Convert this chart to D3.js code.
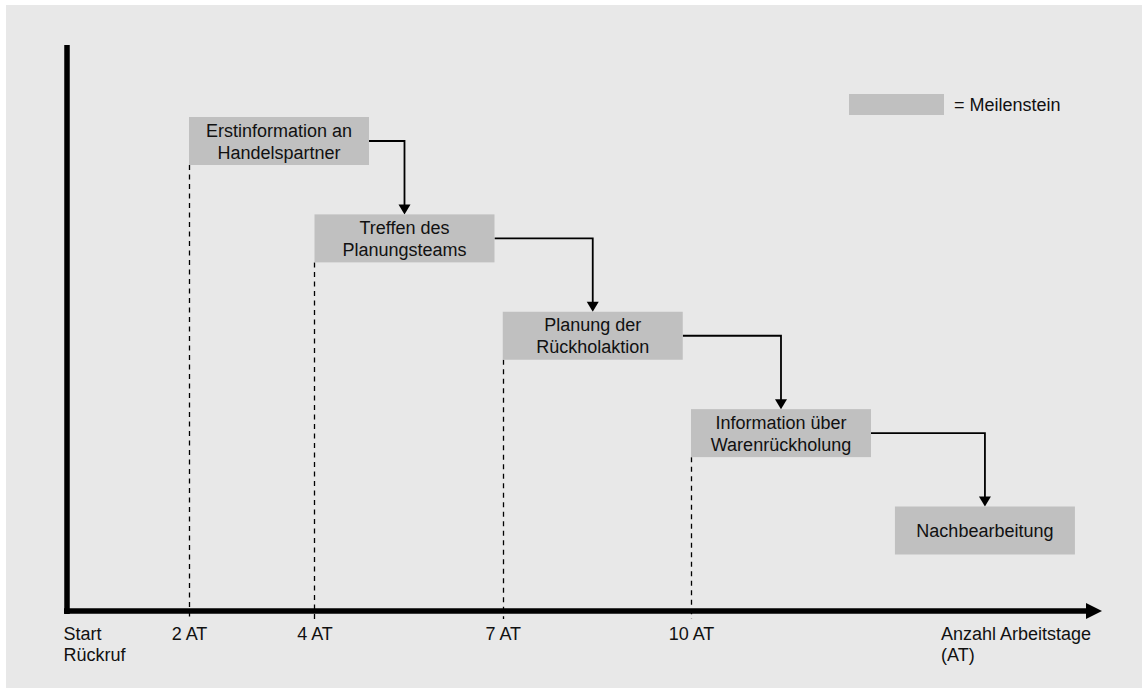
<!DOCTYPE html>
<html>
<head>
<meta charset="utf-8">
<script src="https://cdn.jsdelivr.net/npm/d3@7"></script>
<style>
  body { margin: 0; background: #ffffff; }
  text { font-family: "Liberation Sans", Arial, Helvetica, sans-serif; fill: #111; }
</style>
</head>
<body>
<svg id="chart" width="1142" height="688"></svg>
<script>
// Milestones of the recall process (label lines split by "|") and the working day each starts on
const milestoneLabels = [
  "Erstinformation an|Handelspartner",
  "Treffen des|Planungsteams",
  "Planung der|Rückholaktion",
  "Information über|Warenrückholung",
  "Nachbearbeitung"
];
const milestoneDays = [2, 4, 7, 10, 13.25];
const milestoneMarked = [true, true, true, true, false]; // dashed guide down to the axis

// Axis ticks (working days) and their labels
const tickDays = [0, 2, 4, 7, 10];
const tickLabels = ["Start|Rückruf", "2 AT", "4 AT", "7 AT", "10 AT"];
const axisTitleLines = ["Anzahl Arbeitstage", "(AT)"];
const axisTitleDay = 14;
const legendLabel = "= Meilenstein";

const W = 1142, H = 688;
const boxW = 180, boxH = 48;
const boxFill = "#c0c0c0";
const lineGap = 22;
const fontSize = 18;

const svg = d3.select("#chart");

// panel background
svg.append("rect").attr("x", 6).attr("y", 5).attr("width", W - 6).attr("height", H - 5).attr("fill", "#e8e8e8");

const x = d3.scaleLinear().domain([0, 16.55]).range([63.5, 1102]);
const y = d3.scaleLinear().domain([0, 4]).range([117, 506.5]); // top of each step box
const axisY = 611;

// dashed guides from each milestone to the time axis
svg.append("g").selectAll("line")
  .data(milestoneDays.map((d, i) => ({ d, i })).filter(o => milestoneMarked[o.i]))
  .join("line")
  .attr("x1", o => Math.round(x(o.d)) + 0.5)
  .attr("x2", o => Math.round(x(o.d)) + 0.5)
  .attr("y1", o => y(o.i) + boxH)
  .attr("y2", axisY + 8)
  .attr("stroke", "#000")
  .attr("stroke-width", 1.3)
  .attr("stroke-dasharray", "5,4.5");

// connectors between consecutive milestones
const conn = svg.append("g");
milestoneDays.slice(0, -1).forEach((d, i) => {
  const x0 = x(d) + boxW;
  const yc = y(i) + boxH / 2;
  const x1 = x(milestoneDays[i + 1]) + boxW / 2;
  const y1 = y(i + 1);
  conn.append("path")
    .attr("d", `M${x0},${yc}H${x1}V${y1 - 9}`)
    .attr("fill", "none").attr("stroke", "#000").attr("stroke-width", 1.8);
  conn.append("path")
    .attr("d", `M${x1 - 6},${y1 - 10}L${x1 + 6},${y1 - 10}L${x1},${y1}Z`)
    .attr("fill", "#000");
});

// milestone boxes
const boxes = svg.append("g").selectAll("g")
  .data(milestoneLabels.map((t, i) => ({ lines: t.split("|"), d: milestoneDays[i], i })))
  .join("g")
  .attr("transform", o => `translate(${x(o.d)},${y(o.i)})`);
boxes.append("rect").attr("width", boxW).attr("height", boxH).attr("fill", boxFill);
boxes.append("text")
  .attr("text-anchor", "middle")
  .attr("font-size", fontSize)
  .selectAll("tspan")
  .data(o => o.lines.map((l, k) => ({ l, k, n: o.lines.length })))
  .join("tspan")
  .attr("x", boxW / 2)
  .attr("y", t => boxH / 2 + (t.k - (t.n - 1) / 2) * lineGap + 6.5)
  .text(t => t.l);

// time axis: tick labels via d3.axisBottom
const axis = d3.axisBottom(x).tickValues(tickDays).tickSize(0).tickFormat((d, i) => tickLabels[i]);
const ag = svg.append("g").attr("transform", `translate(0,${axisY})`).call(axis);
ag.select(".domain").remove();
ag.selectAll(".tick text").each(function (d, i) {
  const lines = tickLabels[i].split("|");
  const t = d3.select(this).text(null)
    .attr("fill", "#111").attr("font-size", fontSize).attr("y", 0).attr("dy", null)
    .attr("text-anchor", i === 0 ? "start" : "middle")
    .attr("x", i === 0 ? -0.5 : 0);
  lines.forEach((l, k) => t.append("tspan").attr("x", i === 0 ? -0.5 : 0).attr("y", 29 + k * 21).text(l));
});
ag.attr("font-family", null).attr("font-size", null);

// axis title
const title = svg.append("text").attr("font-size", fontSize);
axisTitleLines.forEach((l, k) => title.append("tspan").attr("x", x(axisTitleDay) - 1).attr("y", axisY + 29 + k * 21).text(l));

// axis lines
svg.append("line").attr("x1", 67).attr("x2", 67).attr("y1", 45).attr("y2", axisY + 3).attr("stroke", "#000").attr("stroke-width", 5.5);
svg.append("line").attr("x1", 64).attr("x2", 1088).attr("y1", axisY).attr("y2", axisY).attr("stroke", "#000").attr("stroke-width", 5.5);
svg.append("path").attr("d", `M1086,${axisY - 8}L${x.range()[1]},${axisY}L1086,${axisY + 8}Z`).attr("fill", "#000");

// legend
svg.append("rect").attr("x", 849).attr("y", 94).attr("width", 95).attr("height", 21).attr("fill", boxFill);
svg.append("text").attr("x", 954).attr("y", 111).attr("font-size", fontSize).text(legendLabel);
</script>
</body>
</html>
